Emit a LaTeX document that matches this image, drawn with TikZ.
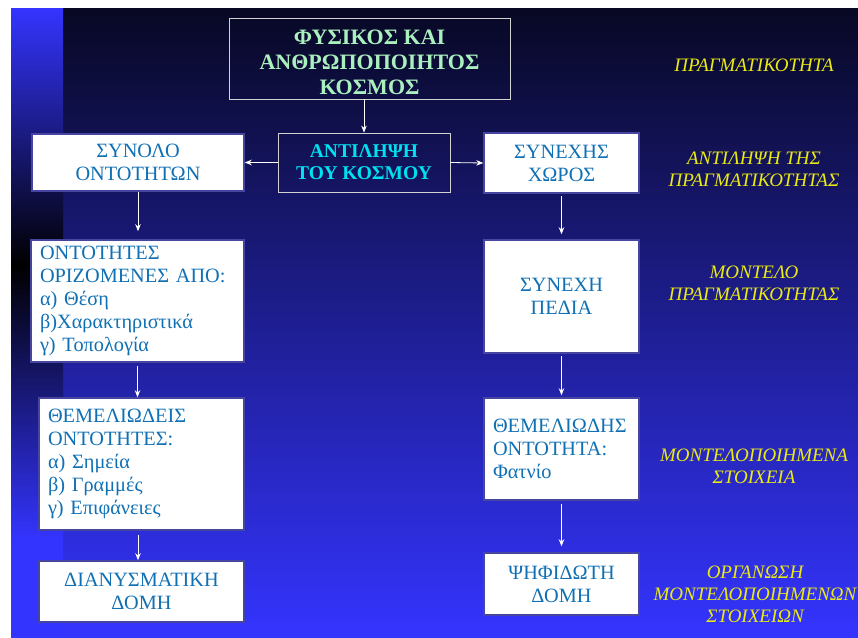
\documentclass[tikz,border=0pt]{standalone}
\usepackage{fontspec}
\setmainfont{Liberation Serif}
\usetikzlibrary{arrows.meta}

\definecolor{bgtop}{RGB}{8,8,36}
\definecolor{bgmid}{RGB}{34,34,168}
\definecolor{bgbot}{RGB}{52,52,255}
\definecolor{boxtext}{RGB}{16,112,180}
\definecolor{boxframe}{RGB}{70,70,160}
\definecolor{titlegreen}{RGB}{170,240,190}
\definecolor{titlecyan}{RGB}{0,225,240}
\definecolor{labelyellow}{RGB}{235,235,20}

\begin{document}
\begin{tikzpicture}[x=1pt,y=-1pt,
  whitebox/.style={draw=boxframe,line width=1.5pt,fill=white,text=boxtext,inner sep=0pt,align=center,font=\fontsize{20.3}{23}\selectfont},
  listbox/.style={whitebox,align=left,inner xsep=9pt},
  darkbox/.style={draw=gray!35,line width=0.8pt,inner sep=0pt,align=center},
  level/.style={text=labelyellow,align=center,font=\itshape\fontsize{19}{22}\selectfont},
  link/.style={draw=white,line width=0.8pt,-{Stealth[length=7pt,width=5.5pt]}}]

\useasboundingbox (0,0) rectangle (858,637);

% background
\shade[top color=bgtop,middle color=bgmid,bottom color=bgbot] (11,8) rectangle (858,637);
\shade[top color=bgbot,bottom color=black] (11,8) rectangle (63,265);
\shade[top color=black,bottom color=bgbot] (11,265) rectangle (63,540);
\fill[bgbot] (11,540) rectangle (63,637);

% middle
\node[darkbox,text=titlegreen,minimum width=281pt,minimum height=81pt,font=\bfseries\fontsize{22}{25}\selectfont] (kosmos) at (369.5,58.5) {\rule{0pt}{23pt}ΦΥΣΙΚΟΣ ΚΑΙ\\ΑΝΘΡΩΠΟΠΟΙΗΤΟΣ\\ΚΟΣΜΟΣ};
\node[darkbox,text=titlecyan,minimum width=172pt,minimum height=59pt,font=\bfseries\fontsize{19.5}{22}\selectfont] (antilipsi) at (364,162.5) {ΑΝΤΙΛΗΨΗ\\ΤΟΥ ΚΟΣΜΟΥ};

% left column
\node[whitebox,minimum width=212pt,minimum height=57pt] (synolo) at (138,162.5) {ΣΥΝΟΛΟ\\ΟΝΤΟΤΗΤΩΝ};
\node[listbox,text width=195pt,minimum height=122pt] (ontotites) at (137.5,301) {ΟΝΤΟΤΗΤΕΣ\\ΟΡΙΖΟΜΕΝΕΣ ΑΠΟ:\\α) Θέση\\β)Χαρακτηριστικά\\γ) Τοπολογία};
\node[listbox,text width=187pt,minimum height=132pt] (themel) at (141.5,464) {ΘΕΜΕΛΙΩΔΕΙΣ\\ΟΝΤΟΤΗΤΕΣ:\\α) Σημεία\\β) Γραμμές\\γ) Επιφάνειες};
\node[whitebox,minimum width=205pt,minimum height=61pt] (dianysm) at (141.5,591.5) {ΔΙΑΝΥΣΜΑΤΙΚΗ\\ΔΟΜΗ};

% right column
\node[whitebox,minimum width=155pt,minimum height=60pt] (synexis) at (561.5,163) {ΣΥΝΕΧΗΣ\\ΧΩΡΟΣ};
\node[whitebox,minimum width=155pt,minimum height=113pt] (synexi) at (561.5,296.5) {ΣΥΝΕΧΗ\\ΠΕΔΙΑ};
\node[listbox,text width=137pt,minimum height=102pt] (themelio) at (561.5,449) {ΘΕΜΕΛΙΩΔΗΣ\\ΟΝΤΟΤΗΤΑ:\\Φατνίο};
\node[whitebox,minimum width=155pt,minimum height=62pt] (psifid) at (561.5,584) {ΨΗΦΙΔΩΤΗ\\ΔΟΜΗ};

% levels
\node[level] (real) at (754,65) {ΠΡΑΓΜΑΤΙΚΟΤΗΤΑ};
\node[level] (perc) at (754,169) {ΑΝΤΙΛΗΨΗ ΤΗΣ\\ΠΡΑΓΜΑΤΙΚΟΤΗΤΑΣ};
\node[level] (model) at (754,283.5) {ΜΟΝΤΕΛΟ\\ΠΡΑΓΜΑΤΙΚΟΤΗΤΑΣ};
\node[level] (elem) at (754,466.5) {ΜΟΝΤΕΛΟΠΟΙΗΜΕΝΑ\\ΣΤΟΙΧΕΙΑ};
\node[level] (org) at (755,594) {ΟΡΓΑΝΩΣΗ\\ΜΟΝΤΕΛΟΠΟΙΗΜΕΝΩΝ\\ΣΤΟΙΧΕΙΩΝ};

% arrows
\draw[link] (kosmos.south -| antilipsi.north) -- (antilipsi.north);
\draw[link] (antilipsi.west) -- (synolo.east);
\draw[link] (antilipsi.east) -- (synexis.west);
\draw[link,shorten >=8pt] (synolo.south) -- (synolo.south |- ontotites.north);
\draw[link,shorten <=3pt] (ontotites.south) -- (ontotites.south |- themel.north);
\draw[link,shorten <=4pt] (themel.south -| synolo.south) -- (dianysm.north -| synolo.south);
\draw[link,shorten <=2pt,shorten >=5pt] (synexis.south) -- (synexi.north);
\draw[link,shorten <=2pt,shorten >=2pt] (synexi.south) -- (themelio.north);
\draw[link,shorten <=3pt,shorten >=6pt] (themelio.south) -- (psifid.north);

\end{tikzpicture}
\end{document}
